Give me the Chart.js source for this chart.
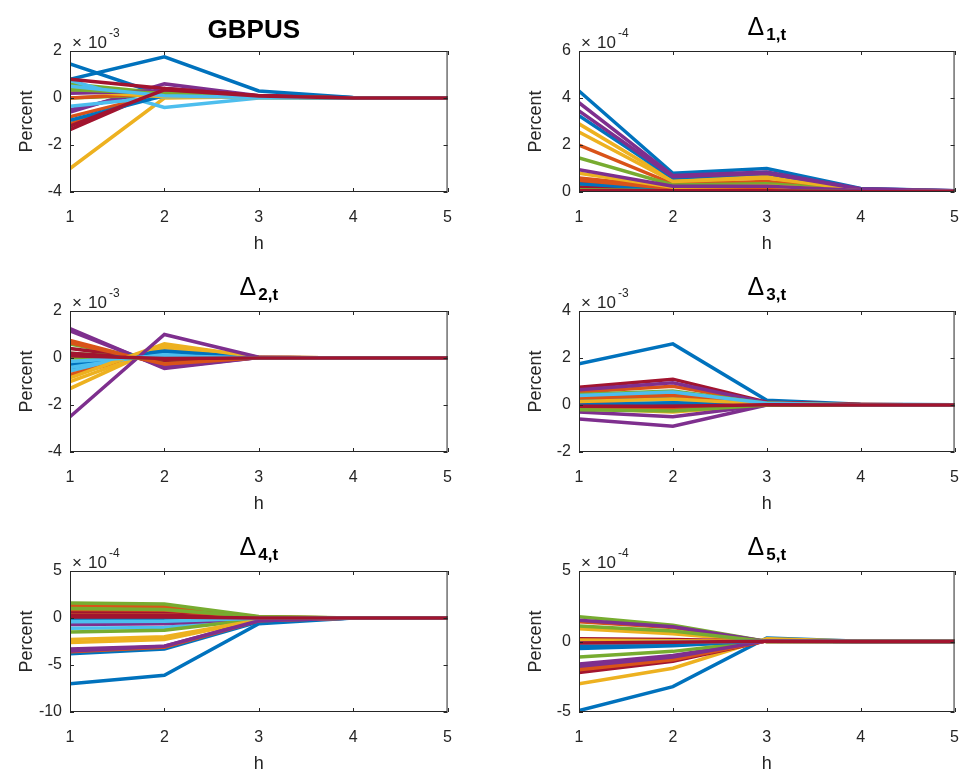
<!DOCTYPE html>
<html>
<head>
<meta charset="utf-8">
<script src="https://cdn.jsdelivr.net/npm/chart.js@4.4.1/dist/chart.umd.min.js"></script>
<style>
  body { margin: 0; background: #fff; }
  #fig { position: relative; width: 973px; height: 774px; background: #fff; overflow: hidden; }
  .panel { position: absolute; }
</style>
</head>
<body>
<div id="fig"></div>
<script>
// horizons on the x axis
const horizons = [1, 2, 3, 4, 5];

// responses, in units of the axis multiplier (x10^-3 or x10^-4)
const gbpusIrf = [
  [1.45, 0.1, 0.05, 0.01, 0],
  [-1.1, 0.3, 0.08, 0.01, 0],
  [-3.0, 0.0, 0.05, 0.01, 0],
  [-0.6, 0.6, 0.1, 0.01, 0],
  [0.6, 0.2, 0.05, 0, 0],
  [0.75, -0.4, 0.0, 0, 0],
  [-1.35, 0.4, 0.1, 0.01, 0],
  [0.8, 1.75, 0.3, 0.02, 0],
  [-0.8, 0.2, 0.05, 0, 0],
  [0.4, 0.1, 0.05, 0, 0],
  [-0.5, 0.4, 0.08, 0, 0],
  [0.0, 0.15, 0.05, 0, 0],
  [-0.35, 0.05, 0.02, 0, 0],
  [0.8, 0.4, 0.1, 0, 0],
  [-0.95, 0.1, 0.05, 0, 0],
  [0.0, 0.2, 0.05, 0, 0],
  [0.3, 0.05, 0.02, 0, 0],
  [0.2, 0.3, 0.05, 0, 0],
  [0.35, 0.2, 0.05, 0, 0],
  [0.5, 0.1, 0.02, 0, 0],
  [-1.2, 0.35, 0.08, 0, 0]
];
const delta1Irf = [
  [4.3, 0.8, 1.0, 0.15, 0.05],
  [2.0, 0.35, 0.45, 0.1, 0.03],
  [2.9, 0.5, 0.7, 0.12, 0.04],
  [3.8, 0.7, 0.85, 0.14, 0.05],
  [1.45, 0.3, 0.35, 0.08, 0.03],
  [0.15, 0.05, 0.05, 0.02, 0.01],
  [0.45, 0.12, 0.15, 0.04, 0.02],
  [3.25, 0.6, 0.8, 0.12, 0.04],
  [0.6, 0.2, 0.2, 0.05, 0.02],
  [2.55, 0.45, 0.6, 0.1, 0.04],
  [3.45, 0.65, 0.8, 0.13, 0.05],
  [0.3, 0.1, 0.1, 0.03, 0.01],
  [0.1, 0.05, 0.05, 0.01, 0.01],
  [0.2, 0.08, 0.08, 0.02, 0.01],
  [0.35, 0.1, 0.1, 0.03, 0.01],
  [0.5, 0.15, 0.15, 0.04, 0.02],
  [0.8, 0.2, 0.25, 0.05, 0.02],
  [0.95, 0.25, 0.25, 0.06, 0.03],
  [0.1, 0.05, 0.05, 0.01, 0.01],
  [0.05, 0.02, 0.02, 0.01, 0],
  [0.05, 0.05, 0.05, 0.01, 0.01]
];
const delta2Irf = [
  [-0.5, 0.2, 0.02, 0, 0],
  [0.75, -0.3, 0.02, 0, 0],
  [-1.3, 0.55, 0.03, 0, 0],
  [1.25, -0.45, 0.02, 0, 0],
  [0.6, -0.2, 0.01, 0, 0],
  [-0.55, 0.25, 0.02, 0, 0],
  [0.4, -0.1, 0.01, 0, 0],
  [-0.3, 0.15, 0.01, 0, 0],
  [-0.7, 0.3, 0.02, 0, 0],
  [-1.0, 0.45, 0.03, 0, 0],
  [1.15, -0.4, 0.02, 0, 0],
  [0.2, -0.05, 0.01, 0, 0],
  [-0.4, 0.2, 0.01, 0, 0],
  [0.2, -0.05, 0, 0, 0],
  [-0.2, 0.3, 0.01, 0, 0],
  [0.65, -0.25, 0.01, 0, 0],
  [-0.85, 0.6, 0.03, 0, 0],
  [-2.5, 1.0, 0.03, 0, 0],
  [0.0, 0.0, 0, 0, 0],
  [-0.15, 0.1, 0, 0, 0],
  [0.1, -0.02, 0, 0, 0]
];
const delta3Irf = [
  [1.75, 2.6, 0.2, 0.03, 0.01],
  [0.55, 0.8, 0.1, 0.02, 0],
  [0.2, 0.3, 0.05, 0.01, 0],
  [-0.6, -0.9, 0.0, 0, 0],
  [0.35, 0.5, 0.08, 0.01, 0],
  [0.1, 0.15, 0.03, 0, 0],
  [0.75, 1.1, 0.12, 0.02, 0],
  [0.25, 0.35, 0.05, 0, 0],
  [0.3, 0.4, 0.06, 0, 0],
  [-0.15, -0.3, 0.0, 0, 0],
  [0.65, 0.95, 0.1, 0.01, 0],
  [0.45, 0.6, 0.08, 0, 0],
  [-0.05, -0.1, 0, 0, 0],
  [0.05, 0.0, 0.02, 0, 0],
  [0.0, 0.1, 0.02, 0, 0],
  [-0.1, -0.2, 0, 0, 0],
  [0.15, 0.25, 0.04, 0, 0],
  [-0.3, -0.5, 0, 0, 0],
  [-0.2, -0.25, 0, 0, 0],
  [0.4, 0.55, 0.07, 0, 0],
  [-0.05, -0.05, 0.01, 0, 0]
];
const delta4Irf = [
  [-7.0, -6.1, -0.6, 0, 0],
  [1.3, 1.2, 0.1, 0, 0],
  [-2.6, -2.3, -0.2, 0, 0],
  [-3.3, -3.0, -0.3, 0, 0],
  [1.6, 1.5, 0.15, 0, 0],
  [-1.1, -1.0, -0.1, 0, 0],
  [0.6, 0.55, 0.05, 0, 0],
  [-3.8, -3.3, -0.4, 0, 0],
  [-3.6, -3.1, -0.3, 0, 0],
  [0.3, 0.3, 0.03, 0, 0],
  [-0.7, -0.6, -0.05, 0, 0],
  [-1.5, -1.3, -0.1, 0, 0],
  [-0.2, -0.2, 0, 0, 0],
  [0.3, 0.3, 0.02, 0, 0],
  [0.0, 0.0, 0, 0, 0],
  [0.9, 0.85, 0.08, 0, 0],
  [-2.3, -2.0, -0.2, 0, 0],
  [-3.5, -3.0, -0.3, 0, 0],
  [1.0, 0.9, 0.1, 0, 0],
  [-0.4, -0.35, -0.03, 0, 0],
  [0.1, 0.1, 0, 0, 0]
];
const delta5Irf = [
  [-4.9, -3.2, 0.25, 0.02, 0],
  [1.4, 1.0, 0.0, 0, 0],
  [-3.0, -1.9, 0.2, 0.01, 0],
  [-1.6, -1.0, 0.05, 0, 0],
  [1.75, 1.15, 0.0, 0, 0],
  [-0.3, -0.2, 0.05, 0, 0],
  [-2.2, -1.4, 0.05, 0, 0],
  [-0.5, -0.3, 0.05, 0, 0],
  [-1.9, -1.2, 0.05, 0, 0],
  [0.9, 0.55, 0.0, 0, 0],
  [1.5, 1.05, 0.0, 0, 0],
  [-1.1, -0.7, 0.05, 0, 0],
  [0.05, 0.05, 0.02, 0, 0],
  [0.2, 0.15, 0.02, 0, 0],
  [-0.35, -0.25, 0.03, 0, 0],
  [-2.0, -1.3, 0.05, 0, 0],
  [0.1, 0.05, 0.02, 0, 0],
  [-1.75, -1.1, 0.05, 0, 0],
  [1.1, 0.75, 0, 0, 0],
  [-0.1, -0.05, 0.02, 0, 0],
  [-0.1, -0.05, 0.02, 0, 0]
];

// y tick labels and exponents per panel
const gbpusTicks = [-4, -2, 0, 2];
const delta1Ticks = [0, 2, 4, 6];
const delta2Ticks = [-4, -2, 0, 2];
const delta3Ticks = [-2, 0, 2, 4];
const delta4Ticks = [-10, -5, 0, 5];
const delta5Ticks = [-5, 0, 5];
const exponents = [-3, -4, -3, -3, -4, -4];
const titles = ["GBPUS", "1,t", "2,t", "3,t", "4,t", "5,t"];

// MATLAB default line colours
const palette = ["#0072BD", "#D95319", "#EDB120", "#7E2F8E", "#77AC30", "#4DBEEE", "#A2142F"];
const axisColor = "#262626";
const FONT = "'Liberation Sans', Arial, Helvetica, sans-serif";

const panels = [
  { series: gbpusIrf, ticks: gbpusTicks },
  { series: delta1Irf, ticks: delta1Ticks },
  { series: delta2Irf, ticks: delta2Ticks },
  { series: delta3Irf, ticks: delta3Ticks },
  { series: delta4Irf, ticks: delta4Ticks },
  { series: delta5Irf, ticks: delta5Ticks }
];

// plot box geometry (left, top of plot area and its size)
const colLeft = [70, 579];
const colWidth = [388, 386];
const rowTop = [51, 311, 571];
const plotH = 141;
const axisW = 70, topPad = 51, xAxisH = 65, rightPad = 10;

// box, inward ticks, title and exponent
const decorPlugin = {
  id: "decor",
  afterDraw(chart, args, opts) {
    const { ctx, chartArea: a, scales } = chart;
    ctx.save();
    ctx.strokeStyle = axisColor;
    ctx.lineWidth = 1;
    ctx.strokeRect(a.left + 0.5, a.top + 0.5, a.right - a.left - 1, a.bottom - a.top - 1);
    const tl = 4;
    ctx.beginPath();
    scales.x.ticks.forEach(t => {
      const px = Math.round(scales.x.getPixelForValue(t.value)) + 0.5;
      ctx.moveTo(px, a.bottom); ctx.lineTo(px, a.bottom - tl);
      ctx.moveTo(px, a.top); ctx.lineTo(px, a.top + tl);
    });
    scales.y.ticks.forEach(t => {
      const py = Math.round(scales.y.getPixelForValue(t.value)) + 0.5;
      ctx.moveTo(a.left, py); ctx.lineTo(a.left + tl, py);
      ctx.moveTo(a.right, py); ctx.lineTo(a.right - tl, py);
    });
    ctx.stroke();

    // exponent label
    ctx.fillStyle = axisColor;
    ctx.textBaseline = "alphabetic";
    ctx.textAlign = "left";
    ctx.font = "17px " + FONT;
    ctx.fillText("\u00D7", a.left + 2, a.top - 3);
    ctx.fillText("10", a.left + 18, a.top - 3);
    ctx.font = "12px " + FONT;
    ctx.fillText(String(opts.exp), a.left + 39, a.top - 14);

    // title
    const cx = (a.left + a.right) / 2;
    ctx.fillStyle = "#000";
    if (opts.index === 0) {
      ctx.font = "bold 26px " + FONT;
      ctx.textAlign = "center";
      ctx.fillText(opts.title, cx - 5, 38);
    } else {
      ctx.font = "25px " + FONT;
      const wD = ctx.measureText("\u0394").width;
      ctx.font = "bold 17px " + FONT;
      const wS = ctx.measureText(opts.title).width;
      const x0 = cx - (wD + wS + 2) / 2;
      ctx.font = "25px " + FONT;
      ctx.fillText("\u0394", x0, 35);
      ctx.font = "bold 17px " + FONT;
      ctx.fillText(opts.title, x0 + wD + 2, 40);
    }
    ctx.restore();
  }
};

const fig = document.getElementById("fig");

panels.forEach((p, i) => {
  const col = i % 2, row = Math.floor(i / 2);
  const w = axisW + colWidth[col] + rightPad;
  const h = topPad + plotH + xAxisH;
  const div = document.createElement("div");
  div.className = "panel";
  div.style.left = (colLeft[col] - axisW) + "px";
  div.style.top = (rowTop[row] - topPad) + "px";
  div.style.width = w + "px";
  div.style.height = h + "px";
  const canvas = document.createElement("canvas");
  canvas.width = w; canvas.height = h;
  div.appendChild(canvas);
  fig.appendChild(div);

  const n = p.series.length;
  const datasets = p.series.map((vals, k) => ({
    data: vals.map((v, j) => ({ x: horizons[j], y: v })),
    borderColor: palette[k % palette.length],
    borderWidth: 3.5,
    pointRadius: 0,
    tension: 0,
    fill: false,
    order: n - k
  }));

  new Chart(canvas, {
    type: "line",
    data: { datasets },
    plugins: [decorPlugin],
    options: {
      responsive: false,
      animation: false,
      layout: { padding: { top: topPad, right: rightPad, left: 0, bottom: 0 } },
      plugins: {
        legend: { display: false },
        tooltip: { enabled: false },
        decor: { index: i, title: titles[i], exp: exponents[i] }
      },
      scales: {
        x: {
          type: "linear",
          min: horizons[0],
          max: horizons[horizons.length - 1],
          afterBuildTicks: s => { s.ticks = horizons.map(v => ({ value: v })); },
          afterFit: s => { s.height = xAxisH; },
          grid: { display: false, drawTicks: false },
          border: { display: false },
          ticks: { color: axisColor, font: { family: FONT, size: 16 }, padding: 16, maxRotation: 0 },
          title: { display: true, text: "h", color: axisColor, font: { family: FONT, size: 18 }, padding: { top: 0, bottom: 2 } }
        },
        y: {
          min: p.ticks[0],
          max: p.ticks[p.ticks.length - 1],
          afterBuildTicks: s => { s.ticks = p.ticks.map(v => ({ value: v })); },
          afterFit: s => { s.width = axisW; },
          grid: { display: false, drawTicks: false },
          border: { display: false },
          ticks: { color: axisColor, font: { family: FONT, size: 16 }, padding: 8 },
          title: { display: true, text: "Percent", color: axisColor, font: { family: FONT, size: 18 }, padding: { top: 16, bottom: 0 } }
        }
      }
    }
  });
});
</script>
</body>
</html>
